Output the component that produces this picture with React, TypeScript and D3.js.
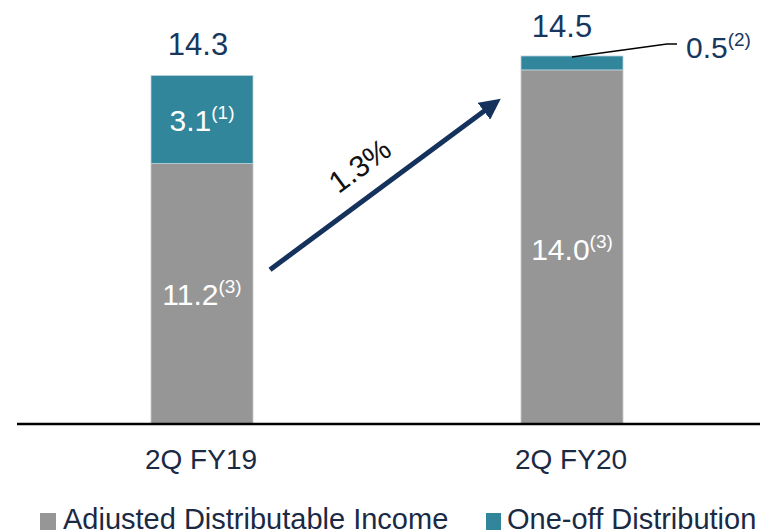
import React from "react";
import * as d3 from "d3";

// ---- data (bar heights; labels as printed) ----
const categories = ["2Q FY19", "2Q FY20"];
const adjustedValues = [10.3, 14.0];
const oneOffValues = [3.48, 0.55];
const adjustedLabels = ["11.2", "14.0"];
const adjustedNotes = ["(3)", "(3)"];
const oneOffLabels = ["3.1", "0.5"];
const oneOffNotes = ["(1)", "(2)"];
const totalLabels = ["14.3", "14.5"];
const growthLabel = "1.3%";
const seriesNames = ["Adjusted Distributable Income", "One-off Distribution"];

const W = 760;
const H = 530;
const GREY = "#969696";
const TEAL = "#31869b";
const NAVY = "#17375e";
const DARK = "#1b2a44";
const FONT = "'Liberation Sans', Arial, sans-serif";

export default function App() {
  const x = d3.scalePoint<string>().domain(categories).range([202, 572]);
  const y = d3.scaleLinear().domain([0, 14.55]).range([424, 56]);
  const bw = 102;

  const stack = categories.map((c, i) => ({
    c,
    a0: 0,
    a1: adjustedValues[i],
    o0: adjustedValues[i],
    o1: adjustedValues[i] + oneOffValues[i],
  }));

  // arrow annotation anchored to bars via scales
  const ax0 = (x(categories[0]) as number) + bw / 2 + 17;
  const ay0 = y(6.1);
  const ax1 = (x(categories[1]) as number) - bw / 2 - 19;
  const ay1 = y(12.9);
  const ang = (Math.atan2(ay1 - ay0, ax1 - ax0) * 180) / Math.PI;

  const c1 = x(categories[1]) as number;
  const leaderStart: [number, number] = [c1, y(stack[1].o1) + 1];

  return (
    <svg
      width={W}
      height={H}
      style={{ position: "absolute", left: 0, top: 0, background: "#fff" }}
      fontFamily={FONT}
    >
      <defs>
        <marker
          id="ah"
          viewBox="0 0 10 10"
          refX="6"
          refY="5"
          markerWidth="4.2"
          markerHeight="4.2"
          orient="auto"
          markerUnits="strokeWidth"
        >
          <path d="M0,0 L10,5 L0,10 z" fill="#14325c" />
        </marker>
      </defs>

      {stack.map((d) => {
        const cx = x(d.c) as number;
        return (
          <g key={d.c}>
            <rect
              x={cx - bw / 2}
              y={y(d.a1)}
              width={bw}
              height={y(d.a0) - y(d.a1)}
              fill={GREY}
              stroke="#c8c8c8"
              strokeWidth={0.8}
            />
            <rect
              x={cx - bw / 2}
              y={y(d.o1)}
              width={bw}
              height={y(d.o0) - y(d.o1)}
              fill={TEAL}
              stroke="#b9d3dc"
              strokeWidth={0.8}
            />
          </g>
        );
      })}

      {/* baseline */}
      <line x1={17} x2={760} y1={424} y2={424} stroke="#000" strokeWidth={2.5} />

      {/* adjusted labels inside grey */}
      {stack.map((d, i) => {
        const cx = x(d.c) as number;
        const yy = i === 0 ? y(d.a1) + 142 : y(d.a1) + 190;
        return (
          <text key={"a" + i} x={cx} y={yy} fill="#fff" fontSize={30} textAnchor="middle">
            {adjustedLabels[i]}
            <tspan fontSize={19} dy={-12}>{adjustedNotes[i]}</tspan>
          </text>
        );
      })}

      {/* one-off label inside teal (first bar) */}
      <text
        x={x(categories[0]) as number}
        y={(y(stack[0].o0) + y(stack[0].o1)) / 2 + 12}
        fill="#fff"
        fontSize={30}
        textAnchor="middle"
      >
        {oneOffLabels[0]}
        <tspan fontSize={19} dy={-12}>{oneOffNotes[0]}</tspan>
      </text>

      {/* one-off label for second bar with leader */}
      <polyline
        points={`${leaderStart[0]},${leaderStart[1]} ${c1 + 95},${leaderStart[1] - 13} ${c1 + 105},${leaderStart[1] - 13}`}
        fill="none"
        stroke="#000"
        strokeWidth={1.5}
      />
      <text x={c1 + 114} y={leaderStart[1] + 1} fill={NAVY} fontSize={30}>
        {oneOffLabels[1]}
        <tspan fontSize={19} dy={-12}>{oneOffNotes[1]}</tspan>
      </text>

      {/* totals */}
      {stack.map((d, i) => (
        <text
          key={"t" + i}
          x={(x(d.c) as number) + (i === 0 ? -4 : -10)}
          y={y(d.o1) - 20 + (i === 0 ? 0 : 1)}
          fill={NAVY}
          fontSize={31}
          textAnchor="middle"
        >
          {totalLabels[i]}
        </text>
      ))}

      {/* growth arrow */}
      <line
        x1={ax0}
        y1={ay0}
        x2={ax1 - 8}
        y2={ay1 + 6}
        stroke="#14325c"
        strokeWidth={5}
        markerEnd="url(#ah)"
      />
      <text
        transform={`translate(${366},${174}) rotate(${ang})`}
        fill="#111"
        fontSize={30}
        textAnchor="middle"
      >
        {growthLabel}
      </text>

      {/* category labels */}
      {categories.map((c) => (
        <text
          key={c}
          x={(x(c) as number) - 1}
          y={469}
          fill={DARK}
          fontSize={28}
          textAnchor="middle"
        >
          {c}
        </text>
      ))}

      {/* legend */}
      <rect x={40} y={513} width={16} height={17} fill={GREY} />
      <text x={63} y={529} fill={DARK} fontSize={29}>
        {seriesNames[0]}
      </text>
      <rect x={486} y={513} width={15} height={17} fill={TEAL} />
      <text x={507} y={529} fill={DARK} fontSize={29}>
        {seriesNames[1]}
      </text>
    </svg>
  );
}
